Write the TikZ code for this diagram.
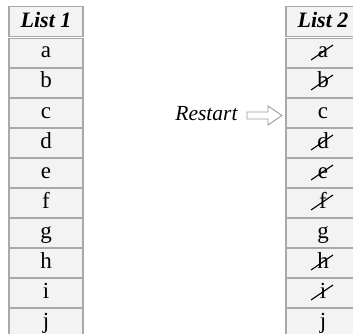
\documentclass[tikz,border=0pt]{standalone}
\usepackage{fontspec}
\setmainfont{Liberation Serif}
\definecolor{cellfill}{HTML}{F3F3F3}
\definecolor{cellline}{HTML}{A9A9A9}
\definecolor{arrowline}{HTML}{9A9A9A}
\begin{document}
\begin{tikzpicture}[x=1pt,y=-1pt,
  cell/.style={draw=cellline,line width=1.3pt,fill=cellfill,minimum width=74pt,minimum height=28.5pt,inner sep=0pt,
    font=\fontsize{23}{25}\selectfont,text height=16pt,text depth=6pt},
  head/.style={cell,minimum height=30pt,font=\fontsize{22}{24}\selectfont\bfseries\itshape,text height=17pt,text depth=5pt},
  slash/.style={line width=1.1pt,black}]
\useasboundingbox (0,0) rectangle (353,334);
\clip (0,0) rectangle (353,334);
% List 1
\node[head] (h1) at (46,21.5) {List 1};
\foreach \l [count=\k from 0] in {a,b,c,d,e,f,g,h,i,j}{
  \node[cell] (l\k) at (46,53+30*\k) {\l};
}
% List 2
\node[head] (h2) at (323,21.5) {List 2};
\foreach \l [count=\k from 0] in {a,b,c,d,e,f,g,h,i,j}{
  \node[cell] (r\k) at (323,53+30*\k) {\l};
}
% slashes
\foreach \k in {0,1,3,4,5,7,8}{
  \draw[slash] ([shift={(-12,7)}]r\k.center) -- ([shift={(10,-8)}]r\k.center);
}
% Restart
\node[font=\fontsize{21.5}{23}\selectfont\itshape,inner sep=0pt] (rs) at (206.5,114) {Restart};
\draw[arrowline,line width=0.9pt,fill=white]
  (247,112) -- (268,112) -- (268,106) -- (282,115.5) -- (268,125) -- (268,119) -- (247,119) -- cycle;
\end{tikzpicture}
\end{document}
